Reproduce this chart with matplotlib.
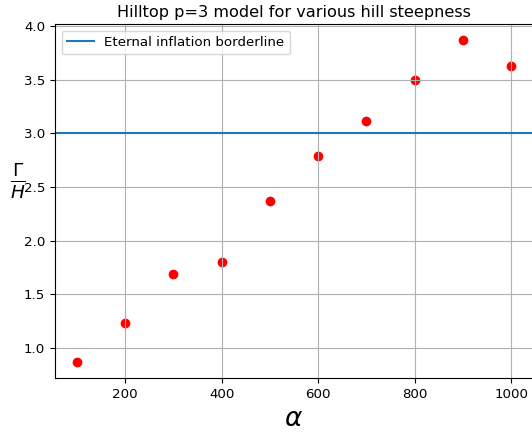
import matplotlib
matplotlib.use('Agg')
import matplotlib.pyplot as plt
import numpy as np

alpha = [100, 200, 300, 400, 500, 600, 700, 800, 900, 1000]
ratio = [0.87, 1.23, 1.69, 1.80, 2.37, 2.79, 3.12, 3.50, 3.87, 3.63]
border = 3.0

plt.rcParams['font.size'] = 9.6

fig = plt.figure(figsize=(5.32, 4.37), dpi=100)
ax = fig.add_axes([55 / 532, 59 / 437, 478 / 532, 354 / 437])

ax.scatter(alpha, ratio, c='red')
ax.axhline(border, label='Eternal inflation borderline')
ax.set_title('Hilltop p=3 model for various hill steepness', fontsize=11.6, pad=5)
ax.set_xlabel(r'$\alpha$', fontsize=19)
ax.set_ylabel(r'$\frac{\Gamma}{H}$', fontsize=19, rotation=0)
ax.yaxis.set_label_coords(-0.077, 0.5)
ax.grid(True)
ax.legend(loc='upper left')

fig.savefig('out.png', dpi=100)
